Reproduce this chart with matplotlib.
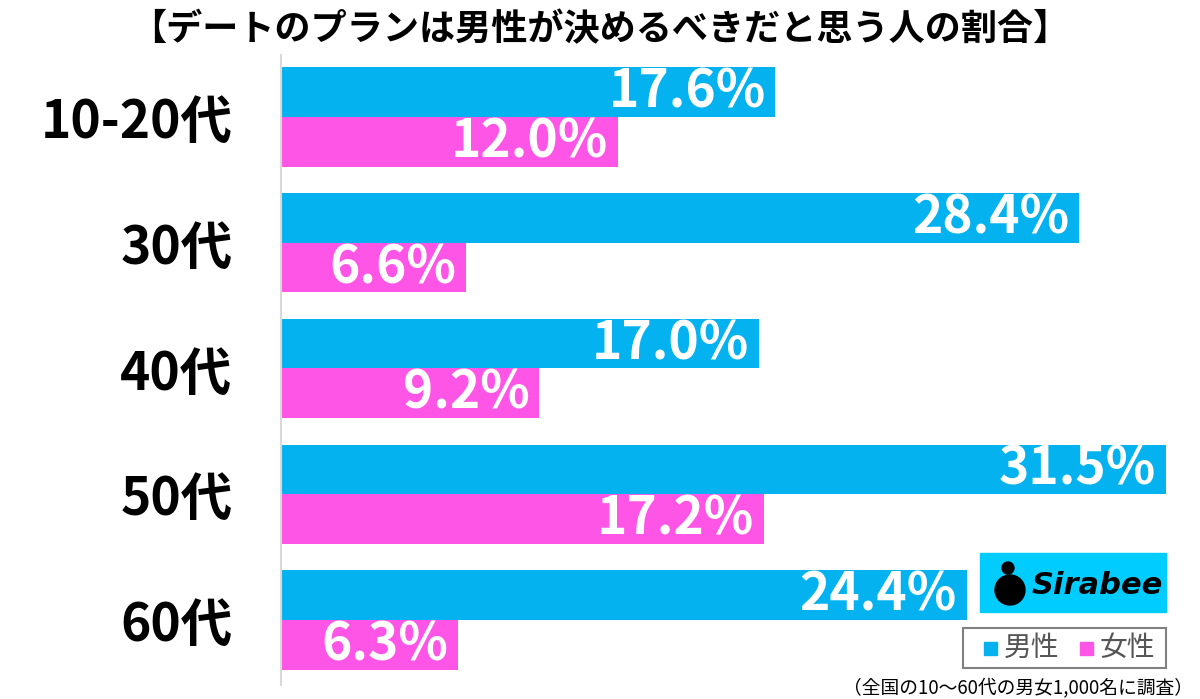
import matplotlib.pyplot as plt
from matplotlib.patches import Rectangle, Ellipse

# データ
categories = ['10-20代', '30代', '40代', '50代', '60代']
male = [17.6, 28.4, 17.0, 31.5, 24.4]
female = [12.0, 6.6, 9.2, 17.2, 6.3]

BLUE = '#05b2f0'
PINK = '#ff55e6'

plt.rcParams['font.family'] = ['Noto Sans CJK JP', 'DejaVu Sans']

fig = plt.figure(figsize=(12, 6.99), dpi=100)
ax = fig.add_axes([281 / 1200, 14 / 699, (1166 - 281) / 1200, 630 / 699])

h = 0.394
ypos = list(range(len(categories)))
ax.barh([y - h / 2 for y in ypos], male, height=h, color=BLUE)
ax.barh([y + h / 2 for y in ypos], female, height=h, color=PINK)

for y, m, f in zip(ypos, male, female):
    ax.text(m - 0.35, y - h / 2, f'{m:.1f}%', ha='right', va='center',
            color='white', fontsize=37, fontweight='bold')
    ax.text(f - 0.35, y + h / 2, f'{f:.1f}%', ha='right', va='center',
            color='white', fontsize=37, fontweight='bold')

ax.set_xlim(0, 31.5)
ax.set_ylim(4.517, -0.493)
ax.set_yticks(ypos)
ax.set_yticklabels(categories, fontsize=37, fontweight='bold')
ax.tick_params(axis='y', length=0, pad=35)
ax.set_xticks([])
for s in ['top', 'right', 'bottom']:
    ax.spines[s].set_visible(False)
ax.spines['left'].set_color('#d9d9d9')
ax.spines['left'].set_linewidth(1.5)

# タイトル
fig.text(0.5, 1 - 30 / 699, '【デートのプランは男性が決めるべきだと思う人の割合】',
         ha='center', va='center', fontsize=26, fontweight='bold')

# ロゴ
fig.patches.append(Rectangle((980 / 1200, 1 - 612 / 699), 186 / 1200, 59 / 699,
                             transform=fig.transFigure, color='#00ccff'))
fig.patches.append(Ellipse((1010 / 1200, 1 - 590 / 699), 30 / 1200, 30 / 699,
                           transform=fig.transFigure, color='black'))
fig.patches.append(Ellipse((1008 / 1200, 1 - 568 / 699), 12 / 1200, 12 / 699,
                           transform=fig.transFigure, color='black'))
fig.text(1032 / 1200, 1 - 585 / 699, 'Sirabee', ha='left', va='center',
         fontsize=22, fontweight='bold', style='italic', family='DejaVu Sans')

# 凡例
fig.patches.append(Rectangle((963 / 1200, 1 - 668 / 699), 203 / 1200, 40 / 699,
                             transform=fig.transFigure, fill=False,
                             edgecolor='#808080', linewidth=1.5))
fig.patches.append(Rectangle((984 / 1200, 1 - 655 / 699), 13 / 1200, 13 / 699,
                             transform=fig.transFigure, color=BLUE))
fig.text(1004 / 1200, 1 - 648 / 699, '男性', ha='left', va='center',
         fontsize=20, color='#555555')
fig.patches.append(Rectangle((1080 / 1200, 1 - 655 / 699), 13 / 1200, 13 / 699,
                             transform=fig.transFigure, color=PINK))
fig.text(1100 / 1200, 1 - 648 / 699, '女性', ha='left', va='center',
         fontsize=20, color='#555555')

# 注記
fig.text(1193 / 1200, 1 - 688 / 699, '（全国の10〜60代の男女1,000名に調査）',
         ha='right', va='center', fontsize=13.5)

fig.savefig('out.png', dpi=100)
